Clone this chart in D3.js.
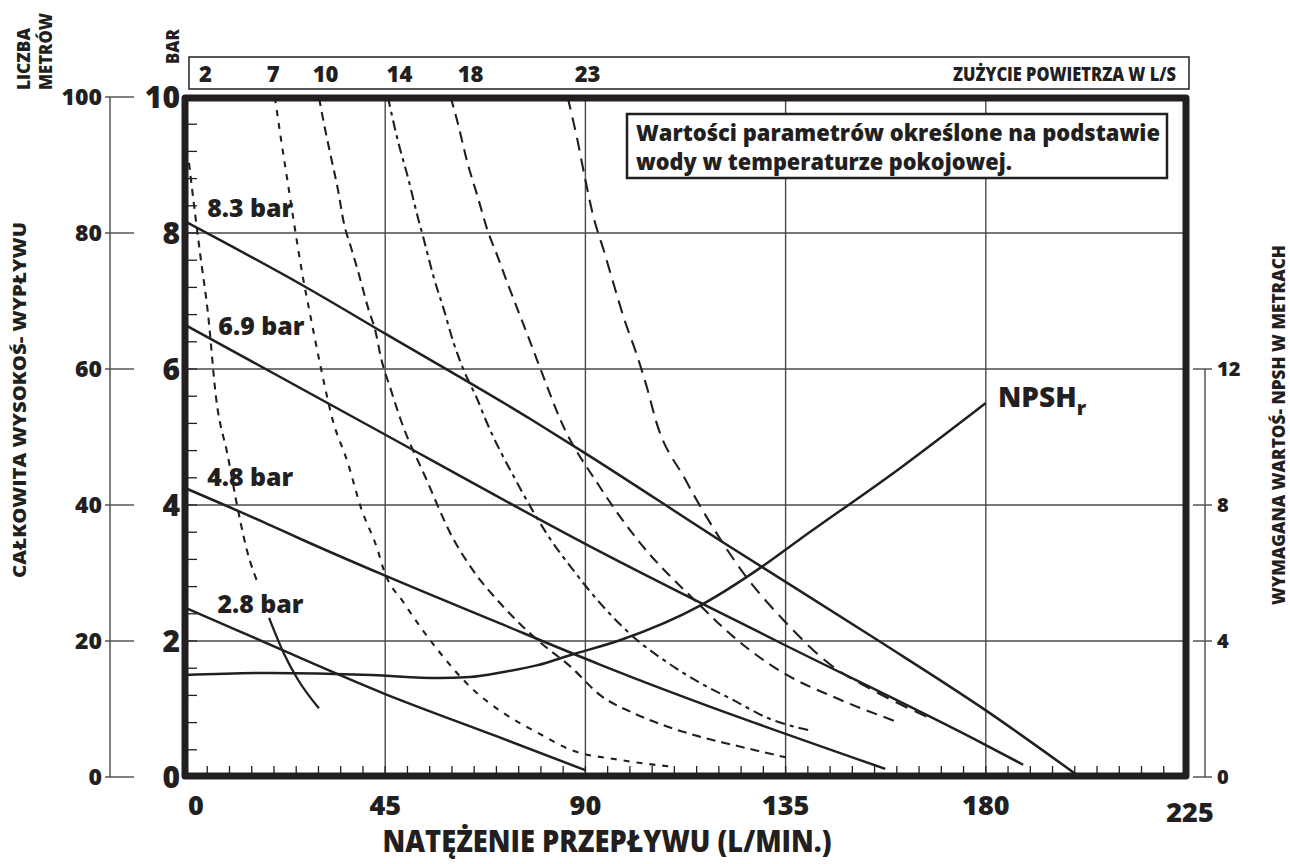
<!DOCTYPE html>
<html><head><meta charset="utf-8">
<script src="https://cdn.jsdelivr.net/npm/d3@7"></script>
<style>
body{margin:0;background:#fff}
text{font-family:"Open Sans","Noto Sans",sans-serif;font-weight:800;fill:#231f20}
</style>
</head><body>
<svg id="c" width="1290" height="864"></svg>
<script>
// ---------- data ----------
const flowTicks = [0, 45, 90, 135, 180, 225];
const barTicks = [0, 2, 4, 6, 8, 10];
const meterTicks = [0, 20, 40, 60, 80, 100];
const npshTicks = [0, 4, 8, 12];
const airLabels = ["2", "7", "10", "14", "18", "23"];
const airLabelFlow = [4.6, 19.8, 31.6, 48.2, 64.2, 90.5];
const pressureLabels = ["8.3 bar", "6.9 bar", "4.8 bar", "2.8 bar"];
const pressureLabelPos = [[5.0, 8.24], [7.5, 6.5], [5.0, 4.28], [7.3, 2.41]];

// pump curves: [flow L/min, head bar]
const pump83 = [[0,8.17],[27,7.21],[45,6.52],[78,5.25],[90,4.76],[120,3.49],[156,2.0],[180,0.98],[200.7,0.02]];
const pump69 = [[0,6.65],[39,5.25],[93.4,3.31],[133,2.0],[180,0.47],[188.4,0.18]];
const pump48 = [[0,4.25],[18.6,3.72],[26,3.5],[45,2.96],[70,2.28],[93.4,1.65],[157.4,0.12]];
const pump28 = [[0,2.49],[12,2.15],[45,1.22],[70,0.6],[90,0.1]];

// air consumption curves (L/s): [flow, bar]
const air2 = [[0.9,9.03],[1.35,8.78],[3.37,7.71],[5.16,6.82],[6.96,5.59],[9.66,4.71],[11.9,3.93],[14.1,3.29],[16.4,2.85]];
const air2solid = [[18.9,2.34],[22.2,1.82],[25.4,1.43],[30.1,1.01]];
const air7 = [[20.2,10],[21.6,9.37],[23.1,8.74],[24.5,8.15],[26.5,7.35],[27.8,6.91],[30.5,6.03],[33.2,5.25],[36.6,4.62],[39.5,3.97],[43.3,3.34],[44.7,3.04],[49.2,2.56],[56.8,1.87],[64.2,1.32],[71.6,0.94],[79.3,0.65],[86.7,0.40],[97.9,0.25],[109.6,0.15]];
const air10 = [[30.1,10],[31.2,9.62],[32.8,9.12],[34.4,8.63],[35.7,8.15],[37.3,7.79],[38.8,7.46],[41.1,6.91],[42.9,6.53],[44.0,6.18],[46.3,5.69],[48.5,5.25],[54.1,4.40],[60.4,3.49],[64.2,3.09],[71.6,2.5],[79.3,2.01],[86.7,1.62],[93.4,1.2],[100.8,0.94],[108.5,0.74],[115.9,0.59],[123.3,0.47],[135.0,0.29]];
const air14 = [[45.6,10],[47.8,9.37],[50.1,8.82],[52.3,8.24],[53.7,7.90],[55.9,7.35],[58.2,6.87],[60.4,6.38],[62.6,5.99],[65.8,5.54],[67.6,5.25],[74.3,4.37],[82.2,3.49],[86.7,3.09],[93.4,2.55],[100.8,2.06],[108.5,1.68],[115.9,1.38],[123.3,1.13],[130.9,0.87],[140.1,0.69]];
const air18 = [[59.7,10],[61.3,9.62],[63.5,9.03],[65.8,8.53],[68.0,8.04],[70.3,7.65],[72.5,7.26],[74.8,6.87],[77.7,6.38],[80.6,5.88],[84.4,5.25],[93.0,4.29],[101.7,3.49],[115.2,2.56],[123.3,2.06],[134.5,1.53],[145.7,1.18],[160.1,0.81]];
const air23 = [[86.0,10],[88.2,9.37],[90.0,8.78],[91.8,8.24],[94.1,7.75],[96.3,7.26],[98.6,6.76],[101.7,6.18],[104.0,5.69],[105.8,5.25],[112.5,4.37],[120.4,3.49],[125.5,3.0],[134.5,2.31],[145.7,1.62],[153.4,1.32],[168.2,0.84]];

// NPSHr: [flow, metres]
const npsh = [[0,3.0],[19,3.06],[42,3.0],[57,2.91],[64,2.94],[71.6,3.09],[79.3,3.29],[86.7,3.59],[97.9,4.03],[115.9,5.05],[129.3,6.15],[138.3,7.0],[160.8,9.09],[180,11.0]];

// ---------- chart ----------
const svg = d3.select("#c");
const X0 = 185, X1 = 1186, Y0 = 777, Y1 = 97;
const x = d3.scaleLinear().domain([0,225]).range([X0,X1]);
const y = d3.scaleLinear().domain([0,10]).range([Y0,Y1]);
const yM = d3.scaleLinear().domain([0,100]).range([Y0,Y1]);
const yN = d3.scaleLinear().domain([0,20]).range([Y0,Y1]);
const ink = "#231f20";

// grid
const g = svg.append("g");
g.selectAll("line.v").data(flowTicks.filter(d=>d>0&&d<225)).join("line")
  .attr("x1",d=>x(d)).attr("x2",d=>x(d)).attr("y1",y(10)).attr("y2",y(0))
  .attr("stroke","#4a4a4a").attr("stroke-width",1.4);
g.selectAll("line.h").data(barTicks.filter(d=>d>0&&d<10)).join("line")
  .attr("x1",X0).attr("x2",X1).attr("y1",d=>y(d)).attr("y2",d=>y(d))
  .attr("stroke","#4a4a4a").attr("stroke-width",1.4);

// minor ticks
const minorY = d3.range(0.4, 10, 0.4);
g.selectAll("line.my").data(minorY).join("line")
  .attr("x1",X0).attr("x2",X0+12).attr("y1",d=>y(d)).attr("y2",d=>y(d))
  .attr("stroke",ink).attr("stroke-width",1.3);
const minorX = d3.range(5, 225, 5);
g.selectAll("line.mx").data(minorX).join("line")
  .attr("x1",d=>x(d)).attr("x2",d=>x(d)).attr("y1",y(0)-1).attr("y2",y(0)-11)
  .attr("stroke",ink).attr("stroke-width",1.3);

// curves
const line = d3.line().x(d=>x(d[0])).y(d=>y(d[1])).curve(d3.curveMonotoneX);
const lineN = d3.line().x(d=>x(d[0])).y(d=>yN(d[1])).curve(d3.curveMonotoneX);

const airSeries = [
  {d: air2, dash: "7,6"},
  {d: air7, dash: "6,7"},
  {d: air10, dash: "9,6"},
  {d: air14, dash: "10,5,4,5"},
  {d: air18, dash: "11,7"},
  {d: air23, dash: "13,8"}
];
airSeries.forEach(s => {
  svg.append("path").attr("d", line(s.d)).attr("fill","none")
    .attr("stroke",ink).attr("stroke-width",2.1).attr("stroke-dasharray",s.dash);
});
svg.append("path").attr("d", line(air2solid)).attr("fill","none")
  .attr("stroke",ink).attr("stroke-width",2.3);

[pump83,pump69,pump48,pump28].forEach(p => {
  svg.append("path").attr("d", line(p)).attr("fill","none")
    .attr("stroke",ink).attr("stroke-width",2.5);
});
svg.append("path").attr("d", lineN(npsh)).attr("fill","none")
  .attr("stroke",ink).attr("stroke-width",2.5);

// frame
svg.append("rect").attr("x",X0).attr("y",98).attr("width",X1-X0).attr("height",776-98)
  .attr("fill","none").attr("stroke",ink).attr("stroke-width",7).attr("stroke-linejoin","round");

// x tick labels
svg.selectAll("text.xt").data(flowTicks).join("text")
  .attr("x",d=>x(d)+(d===0?11:(d===225?4:0)))
  .attr("y",d=>d===225?822:815)
  .attr("text-anchor","middle").attr("font-size",27).text(d=>d);

// bar labels
svg.selectAll("text.bt").data(barTicks).join("text")
  .attr("x",180).attr("y",d=>y(d)).attr("dy","0.36em")
  .attr("text-anchor","end").attr("font-size",30).text(d=>d);

// meter axis
svg.append("line").attr("x1",110).attr("x2",110).attr("y1",yM(100)).attr("y2",yM(0))
  .attr("stroke","#4a4a4a").attr("stroke-width",1.4);
svg.selectAll("line.mt").data(meterTicks).join("line")
  .attr("x1",105).attr("x2",134).attr("y1",d=>yM(d)).attr("y2",d=>yM(d))
  .attr("stroke","#4a4a4a").attr("stroke-width",1.4);
svg.selectAll("text.mt").data(meterTicks).join("text")
  .attr("x",102).attr("y",d=>yM(d)).attr("dy","0.36em")
  .attr("text-anchor","end").attr("font-size",23).text(d=>d);

// NPSH axis
svg.append("line").attr("x1",1205).attr("x2",1205).attr("y1",yN(12)).attr("y2",yN(0))
  .attr("stroke","#4a4a4a").attr("stroke-width",1.4);
svg.selectAll("line.nt").data(npshTicks).join("line")
  .attr("x1",1193).attr("x2",1212).attr("y1",d=>yN(d)).attr("y2",d=>yN(d))
  .attr("stroke","#4a4a4a").attr("stroke-width",1.4);
svg.selectAll("text.nt").data(npshTicks).join("text")
  .attr("x",1217).attr("y",d=>yN(d)).attr("dy","0.36em")
  .attr("font-size",20).text(d=>d);

// top air consumption box
svg.append("rect").attr("x",189).attr("y",57).attr("width",1000).attr("height",32)
  .attr("fill","none").attr("stroke",ink).attr("stroke-width",1.5);
svg.selectAll("text.at").data(airLabels).join("text")
  .attr("x",(d,i)=>x(airLabelFlow[i])).attr("y",82)
  .attr("text-anchor","middle").attr("font-size",22).text(d=>d);
svg.append("text").attr("x",1176).attr("y",81).attr("text-anchor","end")
  .attr("font-size",19).attr("textLength",223).attr("lengthAdjust","spacingAndGlyphs")
  .text("ZUŻYCIE POWIETRZA W L/S");

// annotation box
svg.append("rect").attr("x",627).attr("y",114).attr("width",540).attr("height",64)
  .attr("fill","#fff").attr("stroke",ink).attr("stroke-width",2.5);
svg.append("text").attr("x",636).attr("y",141).attr("font-size",22)
  .attr("textLength",524).attr("lengthAdjust","spacingAndGlyphs")
  .text("Wartości parametrów określone na podstawie");
svg.append("text").attr("x",636).attr("y",170).attr("font-size",22)
  .attr("textLength",376).attr("lengthAdjust","spacingAndGlyphs")
  .text("wody w temperaturze pokojowej.");

// pressure labels
svg.selectAll("text.pl").data(pressureLabels).join("text")
  .attr("x",(d,i)=>x(pressureLabelPos[i][0])).attr("y",(d,i)=>y(pressureLabelPos[i][1]))
  .attr("font-size",24).attr("textLength",86).attr("lengthAdjust","spacingAndGlyphs")
  .text(d=>d);

// NPSHr label
const nl = svg.append("text").attr("x",998).attr("y",407).attr("font-size",28);
nl.append("tspan").text("NPSH");
nl.append("tspan").attr("font-size",20).attr("dy",8).text("r");

// axis titles
svg.append("text").attr("x",607).attr("y",852).attr("text-anchor","middle")
  .attr("font-size",30).attr("textLength",449).attr("lengthAdjust","spacingAndGlyphs")
  .text("NATĘŻENIE PRZEPŁYWU (L/MIN.)");
svg.append("text").attr("transform","translate(26,400) rotate(-90)").attr("text-anchor","middle")
  .attr("font-size",17).attr("textLength",356).attr("lengthAdjust","spacingAndGlyphs")
  .text("CAŁKOWITA WYSOKOŚ- WYPŁYWU");
svg.append("text").attr("transform","translate(1285,425) rotate(-90)").attr("text-anchor","middle")
  .attr("font-size",17).attr("textLength",360).attr("lengthAdjust","spacingAndGlyphs")
  .text("WYMAGANA WARTOŚ- NPSH W METRACH");
svg.append("text").attr("transform","translate(30,90) rotate(-90)")
  .attr("font-size",17).attr("textLength",62).attr("lengthAdjust","spacingAndGlyphs").text("LICZBA");
svg.append("text").attr("transform","translate(52,90) rotate(-90)")
  .attr("font-size",17).attr("textLength",77).attr("lengthAdjust","spacingAndGlyphs").text("METRÓW");
svg.append("text").attr("transform","translate(179,64) rotate(-90)")
  .attr("font-size",17).attr("textLength",35).attr("lengthAdjust","spacingAndGlyphs").text("BAR");
</script>
</body></html>
